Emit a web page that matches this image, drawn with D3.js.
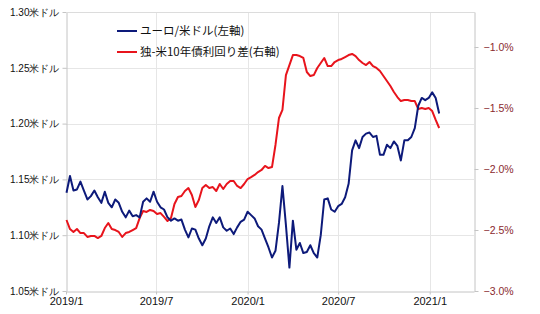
<!DOCTYPE html>
<html>
<head>
<meta charset="utf-8">
<script src="https://cdn.jsdelivr.net/npm/d3@7"></script>
<style>
  body { margin: 0; background: #fff; }
  svg { display: block; font-family: "Noto Sans CJK JP", sans-serif; }
  .grid line { stroke: #e6e6e6; stroke-width: 1; }
  .axis path, .axis line { stroke: #c4c4c4; }
</style>
</head>
<body>
<div id="chart"></div>
<script>
// weekly samples, first one on 2019/1/2
var firstDay = "2019-01-02";
var stepDays = 7;

// EUR/USD (left axis)
var eurUsd = [
  1.138, 1.153, 1.140, 1.141, 1.148, 1.140, 1.132, 1.135, 1.140, 1.134,
  1.129, 1.139, 1.129, 1.125, 1.132, 1.129, 1.121, 1.116, 1.122, 1.117,
  1.118, 1.116, 1.130, 1.133, 1.130, 1.139, 1.130, 1.125, 1.123, 1.116,
  1.113, 1.115, 1.113, 1.114, 1.105, 1.098, 1.106, 1.105, 1.097, 1.091,
  1.097, 1.108, 1.116, 1.111, 1.116, 1.107, 1.104, 1.106, 1.101, 1.107,
  1.112, 1.114, 1.121, 1.118, 1.115, 1.108, 1.105, 1.097, 1.089, 1.080,
  1.086, 1.111, 1.144, 1.109, 1.071, 1.113, 1.087, 1.093, 1.084, 1.085,
  1.091, 1.084, 1.080, 1.100, 1.132, 1.133, 1.123, 1.121, 1.126, 1.128,
  1.134, 1.146, 1.176, 1.185, 1.178, 1.188, 1.191, 1.192, 1.188, 1.189,
  1.172, 1.172, 1.181, 1.178, 1.184, 1.180, 1.167, 1.185, 1.185, 1.188,
  1.196, 1.216, 1.223, 1.221, 1.223, 1.228, 1.223, 1.209
];

// German minus US 10y yield spread, % (right axis)
var bundUstSpread = [
  -2.418, -2.492, -2.516, -2.492, -2.525, -2.525, -2.557, -2.549, -2.549, -2.566,
  -2.549, -2.484, -2.443, -2.492, -2.500, -2.516, -2.557, -2.525, -2.516, -2.500,
  -2.484, -2.402, -2.344, -2.352, -2.336, -2.344, -2.369, -2.361, -2.393, -2.426,
  -2.402, -2.287, -2.230, -2.221, -2.180, -2.156, -2.213, -2.311, -2.254, -2.156,
  -2.131, -2.156, -2.148, -2.180, -2.123, -2.164, -2.123, -2.098, -2.098, -2.139,
  -2.156, -2.123, -2.082, -2.066, -2.049, -2.025, -2.008, -1.975, -1.992, -1.984,
  -1.803, -1.582, -1.516, -1.230, -1.148, -1.066, -1.066, -1.074, -1.090, -1.205,
  -1.238, -1.230, -1.172, -1.131, -1.090, -1.156, -1.156, -1.123, -1.107, -1.098,
  -1.082, -1.066, -1.057, -1.074, -1.107, -1.131, -1.148, -1.123, -1.156, -1.172,
  -1.197, -1.238, -1.279, -1.320, -1.369, -1.410, -1.443, -1.434, -1.434, -1.443,
  -1.443, -1.508, -1.500, -1.508, -1.500, -1.525, -1.598, -1.664
];

var leftTicks = [1.05, 1.10, 1.15, 1.20, 1.25, 1.30];
var rightTicks = [-3.0, -2.5, -2.0, -1.5, -1.0];
var xTicks = ["2019-01-01", "2019-07-01", "2020-01-01", "2020-07-01", "2021-01-01"];
var seriesNames = ["ユーロ/米ドル(左軸)", "独-米10年債利回り差(右軸)"];
var seriesColors = ["#0d1a7a", "#e8141c"];

var W = 540, H = 314;
var plotL = 66, plotR = 474, plotT = 12, plotB = 291;

var svg = d3.select("#chart").append("svg")
    .attr("width", W)
    .attr("height", H);

var parse = d3.utcParse("%Y-%m-%d");
var start = parse(firstDay);
var dates = eurUsd.map(function(v, i) { return d3.utcDay.offset(start, i * stepDays); });

var x = d3.scaleUtc()
    .domain([parse("2019-01-01"), parse("2021-03-31")])
    .range([plotL, plotR]);
var yL = d3.scaleLinear().domain([1.05, 1.30]).range([plotB, plotT]);
var yR = d3.scaleLinear().domain([-3.0, -0.713]).range([plotB, plotT]);

// grid
var grid = svg.append("g").attr("class", "grid");
grid.selectAll("line.h")
    .data(leftTicks.slice(1))
    .enter().append("line")
    .attr("x1", plotL).attr("x2", plotR)
    .attr("y1", function(d) { return Math.round(yL(d)) + 0.5; })
    .attr("y2", function(d) { return Math.round(yL(d)) + 0.5; });
grid.selectAll("line.v")
    .data(xTicks.slice(1))
    .enter().append("line")
    .attr("y1", plotT).attr("y2", plotB)
    .attr("x1", function(d) { return Math.round(x(parse(d))) + 0.5; })
    .attr("x2", function(d) { return Math.round(x(parse(d))) + 0.5; });

// axes
var axL = svg.append("g").attr("class", "axis")
    .attr("transform", "translate(" + (plotL + 0.5) + ",0)")
    .call(d3.axisLeft(yL).tickValues(leftTicks).tickSize(4).tickSizeOuter(0)
        .tickFormat(function(d) { return d3.format(".2f")(d) + "米ドル"; }));
axL.selectAll("text").attr("fill", "#111").style("font-size", "10px").attr("x", -7);

var axR = svg.append("g").attr("class", "axis")
    .attr("transform", "translate(" + (plotR + 0.5) + ",0)")
    .call(d3.axisRight(yR).tickValues(rightTicks).tickSize(4).tickSizeOuter(0)
        .tickFormat(function(d) { return "\u2212" + d3.format(".1f")(-d) + "%"; }));
axR.selectAll("text").attr("fill", "#8a2a2e").style("font-size", "10.5px").attr("x", 9);

var axB = svg.append("g").attr("class", "axis")
    .attr("transform", "translate(0," + (plotB + 0.5) + ")")
    .call(d3.axisBottom(x).tickValues(xTicks.map(parse)).tickSize(3).tickSizeOuter(0)
        .tickFormat(d3.utcFormat("%Y/%-m")));
axB.selectAll("text").attr("fill", "#111").style("font-size", "11px").attr("y", 6);

// top frame line
svg.append("line")
    .attr("x1", plotL).attr("x2", plotR + 1)
    .attr("y1", plotT + 0.5).attr("y2", plotT + 0.5)
    .attr("stroke", "#dcdcdc");

// lines
var lineL = d3.line()
    .x(function(d, i) { return x(dates[i]); })
    .y(function(d) { return yL(d); });
var lineR = d3.line()
    .x(function(d, i) { return x(dates[i]); })
    .y(function(d) { return yR(d); });

svg.append("path")
    .datum(bundUstSpread)
    .attr("fill", "none")
    .attr("stroke", seriesColors[1])
    .attr("stroke-width", 2)
    .attr("stroke-linejoin", "round")
    .attr("d", lineR);

svg.append("path")
    .datum(eurUsd)
    .attr("fill", "none")
    .attr("stroke", seriesColors[0])
    .attr("stroke-width", 2)
    .attr("stroke-linejoin", "round")
    .attr("d", lineL);

// legend
var legend = svg.append("g");
seriesNames.forEach(function(name, i) {
    var ly = 31 + i * 21;
    legend.append("line")
        .attr("x1", 117).attr("x2", 137)
        .attr("y1", ly).attr("y2", ly)
        .attr("stroke", seriesColors[i])
        .attr("stroke-width", 2);
    legend.append("text")
        .attr("x", 140).attr("y", ly)
        .attr("dy", "0.35em")
        .style("font-size", "11.5px")
        .attr("fill", "#111")
        .text(name);
});
</script>
</body>
</html>
